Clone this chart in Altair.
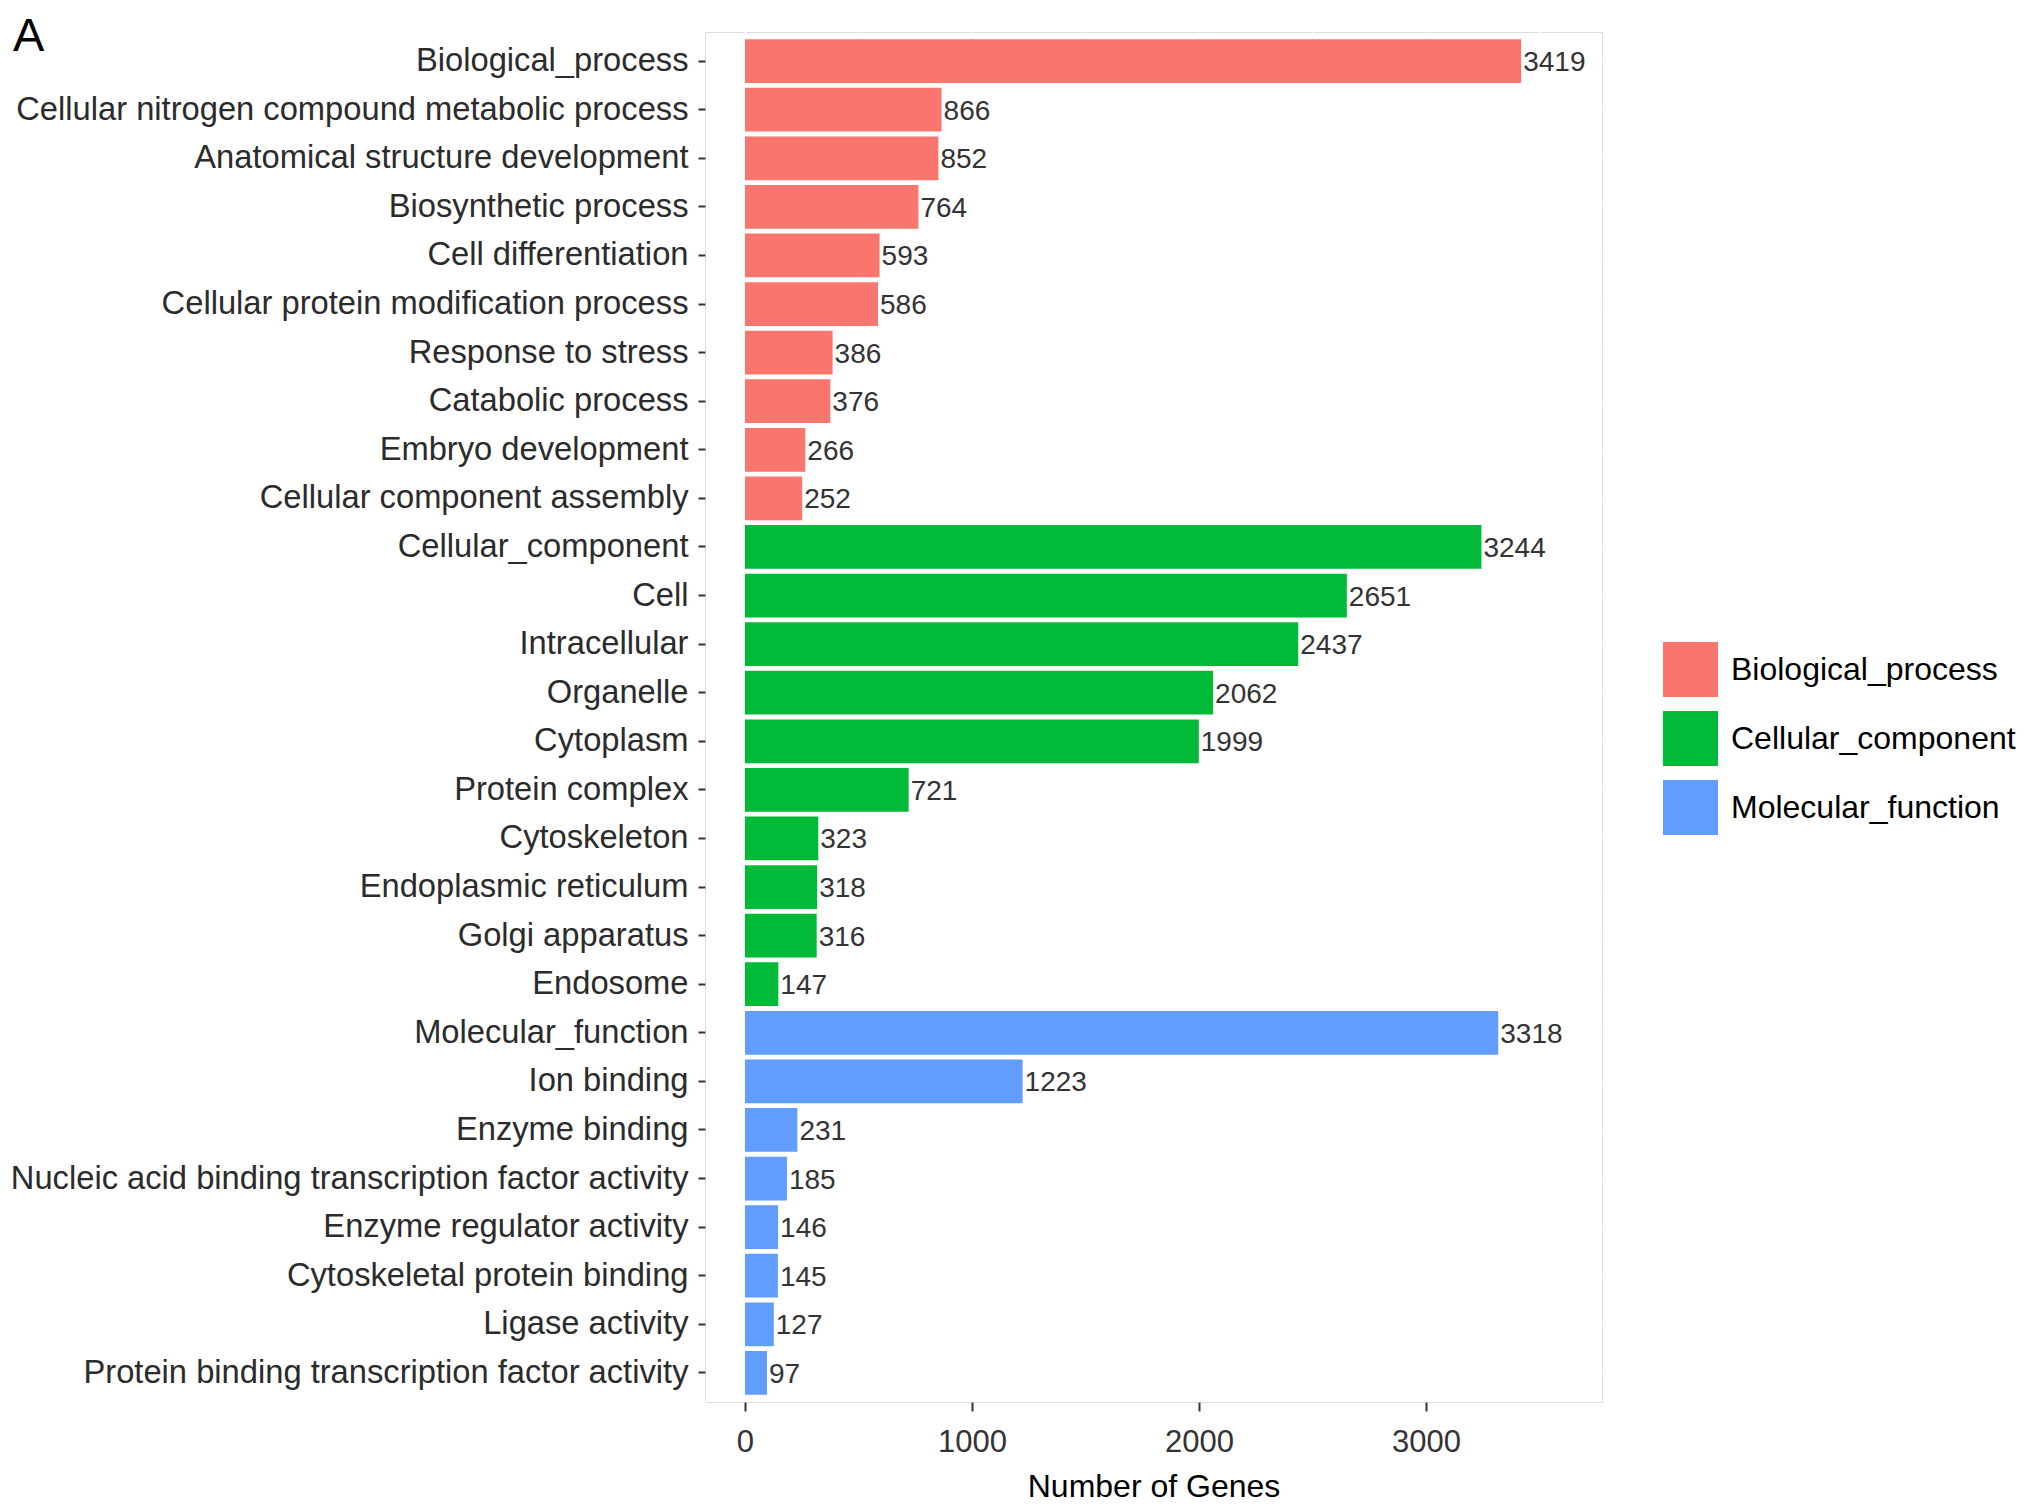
import altair as alt
import pandas as pd

# ---- data ----
bp_terms = ["Biological_process", "Cellular nitrogen compound metabolic process",
            "Anatomical structure development", "Biosynthetic process",
            "Cell differentiation", "Cellular protein modification process",
            "Response to stress", "Catabolic process", "Embryo development",
            "Cellular component assembly"]
bp_counts = [3419, 866, 852, 764, 593, 586, 386, 376, 266, 252]

cc_terms = ["Cellular_component", "Cell", "Intracellular", "Organelle", "Cytoplasm",
            "Protein complex", "Cytoskeleton", "Endoplasmic reticulum",
            "Golgi apparatus", "Endosome"]
cc_counts = [3244, 2651, 2437, 2062, 1999, 721, 323, 318, 316, 147]

mf_terms = ["Molecular_function", "Ion binding", "Enzyme binding",
            "Nucleic acid binding transcription factor activity",
            "Enzyme regulator activity", "Cytoskeletal protein binding",
            "Ligase activity", "Protein binding transcription factor activity"]
mf_counts = [3318, 1223, 231, 185, 146, 145, 127, 97]

group_names = ["Biological_process", "Cellular_component", "Molecular_function"]
group_colors = ["#F8766D", "#00BA38", "#619CFF"]

x_ticks = [0, 1000, 2000, 3000]
x_minor = [500, 1500, 2500, 3500]
panel_label = ["A"]

rows = []
for g, terms, counts in zip(group_names, [bp_terms, cc_terms, mf_terms],
                            [bp_counts, cc_counts, mf_counts]):
    for t, c in zip(terms, counts):
        rows.append({"term": t, "count": c, "group": g})
df = pd.DataFrame(rows)
order = bp_terms + cc_terms + mf_terms
minor_df = pd.DataFrame({"count": x_minor})
label_df = pd.DataFrame({"label": panel_label})

FONT = "Liberation Sans"
xscale = alt.Scale(domain=[-176, 3775], nice=False, zero=False)
yscale = alt.Scale(paddingInner=0.1, paddingOuter=0.15)

minor = alt.Chart(minor_df).mark_rule(color="white", strokeWidth=1.5).encode(
    x=alt.X("count:Q", scale=xscale, title="Number of Genes")
)

x_enc = alt.X(
    "count:Q", scale=xscale, title="Number of Genes",
    axis=alt.Axis(values=x_ticks, format="d", labelFontSize=31, labelColor="#333333",
                  labelFont=FONT, tickSize=9, tickWidth=2, tickColor="#333333",
                  labelPadding=16, domain=False, grid=True, gridColor="white",
                  gridWidth=3, titleFontSize=32, titleFontWeight="normal",
                  titleColor="black", titleFont=FONT, titlePadding=14)
)
y_enc = alt.Y(
    "term:N", sort=order, scale=yscale, title=None,
    axis=alt.Axis(labelFontSize=32.7, labelColor="#2b2b2b", labelFont=FONT,
                  tickSize=7, tickWidth=2, tickColor="#333333", labelPadding=10,
                  domain=False, grid=True, gridColor="white", gridWidth=3,
                  bandPosition=0.5, labelLimit=1000)
)

bars = alt.Chart(df).mark_bar().encode(
    x=x_enc,
    y=y_enc,
    color=alt.Color(
        "group:N",
        scale=alt.Scale(domain=group_names, range=group_colors),
        legend=alt.Legend(title=None, orient="none", legendX=958, legendY=610,
                          symbolType="square", symbolSize=3025, symbolStrokeWidth=0,
                          symbolOpacity=1, labelFontSize=32, labelFont=FONT,
                          labelColor="black", labelOffset=13, rowPadding=14,
                          padding=0, labelLimit=1000),
    ),
)

labels = alt.Chart(df).mark_text(
    align="left", baseline="middle", dx=2, dy=2, fontSize=28, font=FONT, color="#333333"
).encode(
    x=alt.X("count:Q", scale=xscale, title="Number of Genes"),
    y=alt.Y("term:N", sort=order, scale=yscale, title=None),
    text=alt.Text("count:Q"),
)

tag = alt.Chart(label_df).mark_text(
    align="left", baseline="alphabetic", fontSize=47, font=FONT, color="black"
).encode(
    x=alt.value(-692),
    y=alt.value(19),
    text=alt.Text("label:N"),
)

chart = alt.layer(minor, bars, labels, tag).properties(
    width=897,
    height=1370,
    autosize=alt.AutoSizeParams(type="none"),
    padding={"left": 697, "top": 24, "right": 422, "bottom": 100},
).configure_view(fill="#EBEBEB", strokeWidth=0).configure(font=FONT)

chart.save("out.html", embed_options={"renderer": "svg", "actions": False})
